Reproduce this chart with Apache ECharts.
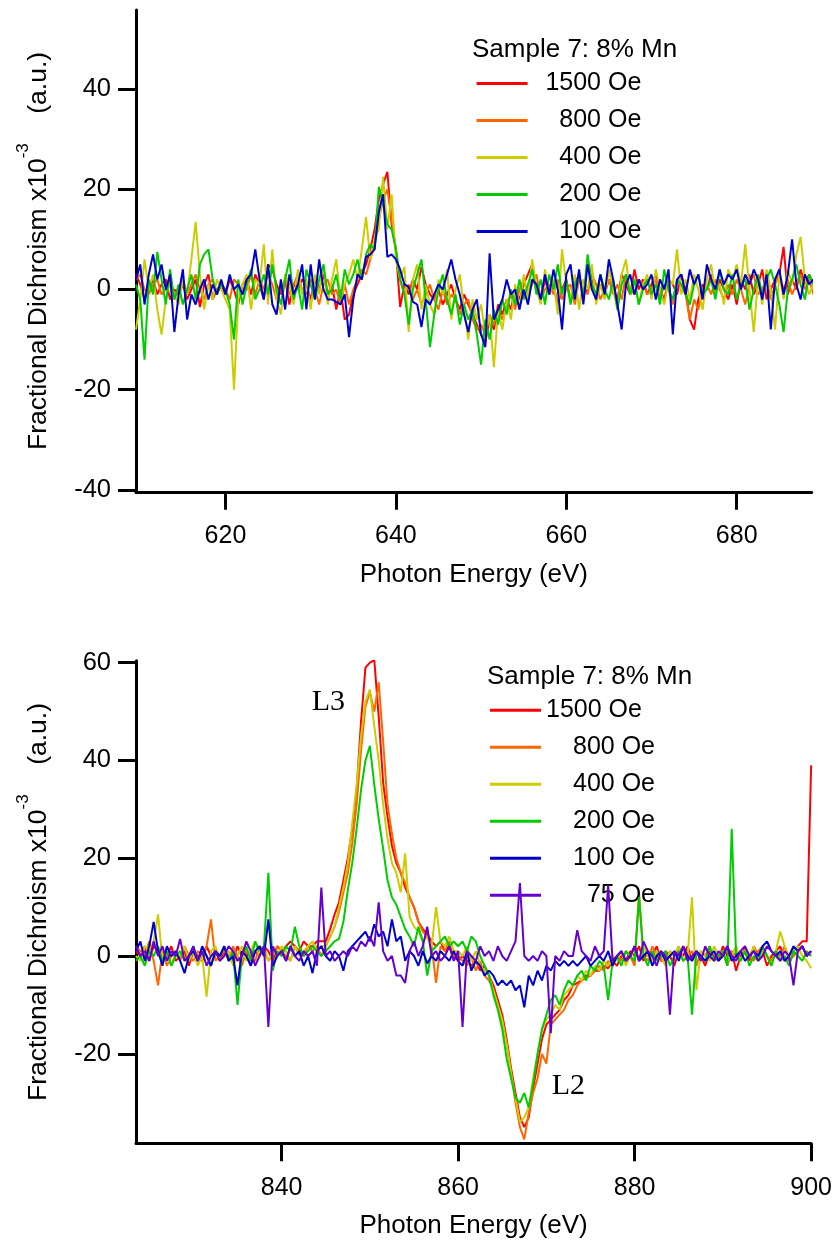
<!DOCTYPE html>
<html>
<head>
<meta charset="utf-8">
<script src="https://cdn.jsdelivr.net/npm/echarts@6/dist/echarts.min.js"></script>
<style>
html,body{margin:0;padding:0;background:#fff;}
#chart{width:835px;height:1241px;}
</style>
</head>
<body>
<div id="chart"></div>
<script>
// ---------- data ----------
const seriesNames = ['1500 Oe', '800 Oe', '400 Oe', '200 Oe', '100 Oe', '75 Oe'];
const seriesColors = ['#ff0000', '#ff6600', '#cccc00', '#00cc00', '#0000cc', '#6600cc'];
const legendTitle = 'Sample 7: 8% Mn';
const xAxisTitle = 'Photon Energy (eV)';
const topXTicks = [620, 640, 660, 680];
const topYTicks = [-40, -20, 0, 20, 40];
const bottomXTicks = [840, 860, 880, 900];
const bottomYTicks = [-20, 0, 20, 40, 60];

// energy sampling (eV): first point and spacing of each scan
const topStartEnergy = 609.5;
const bottomStartEnergy = 823.5;
const energyStep = 0.5;

// Top panel (609.5 - 689 eV)
const topRed = [
  3, 1, -2, 0, 2, -1, 1, 2, -2, 0,
  -1, 1, -2, 0, 2, -3.5, 1, 3, -2, 0,
  1, -1, 2, 0, -3, 1, 2, -1, 3, 1,
  -2, 5, 4, 1, -1, 2, -3, 1, 0, 2,
  1, -2, 2, 0, 3, -1, 1, -4, 0, -6,
  -5, -1, 1, 3, 5, 8, 12, 18, 21, 23.5,
  13, 8, -3.5, 1, -1, 2, 0, 4.5, 1, -1,
  -2, 0, -3, -1, 1, -2, -4, -1, -3, -5,
  -7, -9, -10.5, -6, -8, -3, -5, -2, -4, 0,
  -2, 1, 3, 5, 0, -2, 2, -1, 1, -3,
  0, 2, -2, 1, 3, -1, 0, 2, -2, 1,
  -1, 2, 0, -2, 3, 1, -1, 4, 0, 2,
  -1, 1, 3, 0, -2, 2, 1, -1, 3, 0,
  -6, -8, -2, 1, 0, 3, -1, 2, 0, -2,
  1, -3, 2, 0, 3, -1, 1, 4, -2, 0,
  2, 3, 8.5, -1, 2, 0, 4, 1, 3, 1
];
const topOrange = [
  2, 3, 0, -1, 1, 2, -1, 0, 1, -2,
  0, 2, -1, 1, 3, 0, -2, 1, 2, -1,
  1, 0, -2, 2, 1, -1, 0, 3, -1, 2,
  0, 3, 1, -2, 0, 2, -1, 1, 3, 0,
  -1, 2, 0, -3, 1, 2, -1, 0, -3, 1,
  -3, 0, 2, 4, 3, 6, 9, 14, 18, 20,
  14, 8, 2, -1, 1, -2, 0, -3, -1, 1,
  -2, -4, 0, -3, -1, -2, -5, -3, -2, -6,
  -8, -7, -9, -5, -7, -4, -6, -3, -1, -4,
  0, 2, -1, 1, 3, -2, 0, 1, -1, 2,
  -2, 0, 1, -3, 2, 0, -1, 3, 1, -2,
  0, 2, -1, 1, -2, 3, 0, -1, 2, 1,
  -1, 0, 2, -2, 1, 0, -3, 2, 1, -1,
  -6, -2, -4, 0, 1, -1, 2, 0, -2, 1,
  -1, 2, 0, -3, 1, 3, -1, 0, 2, -2,
  1, 3, 0, 2, -1, 1, 3, 0, 2, -1
];
const topYellow = [
  -8, -2, 6, 0, 3, -4, -9, -2, 2, -1,
  -3, 2, -1, 6, 13.5, 3, -4, 1, -2, 2,
  0, -2, -4, -20, -2, 1, 3, -4, 2, 1,
  9, -3, 8, -2, -5, 3, 1, -3, 4, -1,
  2, -4, 3, -1, 5, -3, 2, 6, -2, 1,
  3, 6, 2, 8, 14.5, 6, 10, 12, 22.5, 12,
  19, 6, 2, 4.5, -8.5, 2, 5, -4, 1, -3,
  -5, 2, -1, 4, -6, 0, 3, -4, -10, -2,
  -6, -3, -9, -5, -15.5, -4, -8, -2, -6, 1,
  -4, 3, -2, 6, 0, -3, 4, -1, 2, -5,
  8, 1, -2, 3, -4, 2, 0, 5, -3, 1,
  -2, 4, 0, -4, 3, 6, -1, 2, -3, 1,
  3, -2, 4, 0, -3, 2, 1, 8, -1, 2,
  -2, 3, 0, -4, 2, 5, -1, 1, -3, 4,
  2, 5, 1, 9, 0, -8.5, 2, -3, 4, 0,
  -8, 3, -2, 4, 1, 7, 10.5, 2, -1, 1
];
const topGreen = [
  1, -2, -14, 2, -1, 7.5, 2, -3, 4, -2,
  1, -3, 0, 3, -2, 5, 7, 8, 2, -1,
  1, 0, -3, -10, 2, -3, 1, 4, -2, 0,
  3, -1, 5, 0, -3, 2, 6, -2, 1, -4,
  4, 1, -2, 2, 5, -1, 0, 3, -2, 4,
  1, 3, 6, 2, 7, 9, 8, 20.5, 17, 13,
  12, 8, 2, -1, -7, 0, 3, 6, -2, -11.5,
  -5, 0, 3, -2, -5, -1, -7, -3, -6, -4,
  -9, -15, -6, -10, -4, -7, -2, -5, 0, -3,
  2, -2, 1, 4, -1, 2, -3, 3, 0, 5,
  -1, 2, -3, 1, 3, -2, 7, 1, -1, 3,
  0, -2, 2, -4, 1, 3, -1, 2, -3, 0,
  2, -1, 1, -3, 4, 0, -2, 2, 1, -1,
  -3, 1, 3, -1, 0, 2, -2, 4, 0, -1,
  3, -2, 1, 2, -4, 0, 3, -1, 2, 4,
  1, -3, -8.5, 0, 2, 5, 1, -2, 3, 1
];
const topBlue = [
  2, 5, -3, 3, 7, 2, 5, 0, 3, -8.5,
  -1, 4, -6, -1, -3, 0, 2, -2, 1, -1,
  2, -1, 3, 0, 1, -1, 2, 3, 8, 2,
  -2, 5, -3, -5, 2, -4, 3, -1, 1, 5,
  -4, 5, -2, 6, 0, -2, -2, -2.5, -3, -1,
  -9.5, -2, 3, 2, 6.5, 7, 8, 15.5, 19, 6.5,
  7, 6, 4, 1, 0.5, -2.5, -3, -7.5, -2, -3,
  -1, 1, 0, 3, 6, 2, -1, -5, -8.5, -4,
  -2, -9, -11.5, 7.2, -6, -4, -2, 2, -1, 0,
  -4, 0, -3, 2, 1, -2, 3, -1, 4, 0,
  -8, 3, 5, -2, 4, -3, 5, 0, -2, 3,
  -1, 6, 2, -3, -8, 1, 3, -1, 2, 0,
  1, 3, -2, 2, 0, 4, -9, 2, 3, -1,
  4, 1, 3, -2, 5, 2, 0, 4, 1, 3,
  2, 4, 0, 3, 1, 4, 2, -2, 3, -8,
  2, 4, -1, 3, 10, 1, -2, 3, 1, 2
];

// Bottom panel (823.5 - 900 eV)
const bottomRed = [
  1, 0, 2, -1, 2, 1, -1, 0, 2, -1,
  0, 1, -2, 1, 0, -1, 2, 0, 1, -1,
  1, 0, -1, 2, 0, 1, -2, 1, 0, 2,
  1, -1, 2, 1, 2, 3, 2, 1, 3, 2,
  2, 3, 3, 3, 5.5, 8.5, 11, 15.5, 20, 26,
  34, 48, 59, 60, 60.5, 49, 35.5, 28.5, 22.5, 19,
  17, 14, 12, 10, 7, 5.5, 4.5, 3, 2, 3,
  1, 2, 0, -1, 0, -1, -2, -1, -3, -2,
  -4, -6, -9, -12, -17, -23, -28, -33, -35, -33,
  -27, -22, -17, -14, -13, -12, -11, -9, -8, -6,
  -5.5, -5, -4, -4, -3, -3, -2, -2.5, -1, -2,
  0, -1, 1, 0, 2, -1, 1, 0, 2, -1,
  1, 0, -2, 1, 0, 2, -1, 1, 0, -2,
  1, 0, -1, 2, 0, 1, -3, 0, 1, -1,
  2, 0, 1, -2, 0, 1, 2, -1, 0, 1,
  2, 3, 3, 39
];
const bottomOrange = [
  2, 1, 0, 3, -1, -6, 1, -2, 0, 1,
  -1, 2, 0, -1, 1, 0, 2, 7.5, -1, 0,
  1, -1, 2, 0, -2, 1, 0, -1, 2, 1,
  -1, 0, 2, 1, 0, -1, 2, 1, 0, 2,
  1, 2, 0, 2, 4, 6, 9, 13, 17, 23,
  31, 42, 51, 54, 50, 56, 44, 31, 25, 20,
  17, 15, 12, 10, 7, 5, 4, 2, -5.5, 2,
  1, 3, 0, 0, -1, -2, 0, -3, -1, -4,
  -5, -7, -10, -14, -18, -24, -30, -35, -37.5, -32,
  -28, -25, -20, -22, -14, -13, -12, -11, -9, -8,
  -6, -5, -4.5, -4, -3, -2, -3, -1, -2, 0,
  -1, 1, 0, -2, 13, 0, -1, 2, 0, -1,
  -1, 1, 0, 2, -1, 0, 1, -2, 1, 0,
  2, -1, 0, 1, -2, 1, 0, -1, 2, 0,
  -1, 1, 2, 0, -1, 1, 0, 2, -1, 0,
  1, 2, 0, 1
];
const bottomYellow = [
  0, -1, 2, 1, 3, 8.5, -1, 0, -2, 1,
  0, 2, -1, 1, -2, 0, -8.3, 1, 2, -1,
  0, 1, -2, 0, 2, -1, 1, 3, 0, 2,
  -1, 1, 0, 2, 1, -1, 2, 0, 1, 2,
  3, 1, 2, 2, 4, 6, 10, 14, 19, 27,
  35, 45, 52, 54.5, 47, 40, 31, 24, 19, 17,
  13, 21, 8, 6, 5, 3, 4, 2, 10, 3,
  2, 4, 1, 1, 0, 2, -1, 1, -2, -3,
  -4, -7, -10, -13, -18, -24, -29, -34, -33, -31,
  -25, -20, -15, -13, -12, -10, -11, -8, -7, -6,
  -4, -5, -3, -4, -2, -3, -1, -2, 0, -1,
  1, -2, 0, 1, -1, 2, 0, -1, 1, 0,
  -2, 1, 0, 2, -1, 0, 12, -7, 1, 0,
  -1, 2, 0, 1, -1, 0, 2, -1, 1, 0,
  2, -1, 1, 0, -2, 1, 5, 2, 0, 1,
  2, 0, -1, -2.5
];
const bottomGreen = [
  -1, 0, -2, 1, 0, 2, -1, 1, -2, 0,
  1, -1, 0, 2, -1, 1, 0, -2, 1, 0,
  2, -1, 1, -10, 0, 2, -1, 3, 1, 2,
  17, -3, 1, 0, 2, 1, 6, 2, 0, 1,
  2, 1, 0, 1, 2, 3, 3.5, 7, 13.5, 19,
  26, 34, 40, 43, 35, 28, 22, 15.5, 12, 10.5,
  8, 5.5, 4, 2, 6, 3, -4, 1, 2, 3,
  4, 2, 3, 2, 3, 1, 4, 3, 0, -2,
  -4, -8, -11, -15, -21, -25, -29, -30, -28, -31,
  -26, -20, -15, -12, -9, -8, -10, -7, -5, -6,
  -4, -3, -5, -2, -3, -1, -2, -9, -1, 0,
  -2, 1, 0, -1, 12, 0, -2, 1, -1, 0,
  1, -2, 0, 1, -1, 0, -12, 1, 0, -1,
  2, -1, 0, 1, -2, 26, 0, -1, 1, -2,
  0, -1, 2, 0, -2, 1, -1, 0, -2, 1,
  0, -1, 1, 0
];
const bottomBlue = [
  1, 3, -1, 2, 7, 1, -2, 2, 0, 1,
  -1, -3.5, 0, 1, -1, 2, 0, -2, 1, 0,
  2, -1, 0, -6, 1, 0, -2, 1, 2, 0,
  7.5, -2, 0, 1, -1, 2, 0, 1, -2, 0,
  -3.5, 1, 2, 0, -1, 1, 0, -3, 1, 2,
  3, 4, 5, 3, 6.5, 4, 5, 2, 7.5, 3,
  4, -1, 1, 0, -2, 1, -1.5, 0, -1, 1,
  0, -1, 1, -1, -2, 1, -3, -1, -2, -4,
  -3, -4, -6, -5, -6, -5, -7, -6, -10.5, -4,
  -6, -3, -5, -2, -3, -1, -2, -1, -2, -1,
  -2, -1, 0, -2, -1, 0, -1, 1, -2, 0,
  1, -1, 0, 2, -1, 0, 1, -2, 0, 1,
  -1, 0, 1, -1, 2, 0, -1, 1, 0, -1,
  0, 1, -1, 0, 2, -1, 0, 1, -1, 0,
  1, 0, 2, 3, 1, 0, 1, -1, 0, 2,
  1, 2, 0, 1
];
const bottomPurple = [
  2, 0, 1, -1, 3, 0, 2, -1, 1, 0,
  3.5, -1, 0, 2, -1, 1, -2, 0, 1, -1,
  0, 2, 1, -1, 0, 3, 1, -2, 0, 2,
  -14.5, 2, 0, 1, -1, 2, 0, -1, 1, 0,
  1, -2, 14, 0, 1, -1, 0, 1, 0, 2,
  1, 3, 2, 4, 2, 11, 1, -1, 0, -4,
  -4, -5.5, 1, 3, 0, 2, 6, 0, 1, -1,
  0, 2, -1, 1, -14.5, 1, 0, -1, 2, 0,
  1, -1, 2, 0, -1, 1, 3, 14.9, 0, -1,
  0, -1, 1, 0, -15.8, 0, -1, 1, 0, 0,
  5.3, 1, 0, -1, 2, 0, 1, 14.5, -1, 0,
  1, -1, 0, 2, -1, 3, 1, 0, -2, 1,
  0, -12, 1, 0, 2, -1, 0, 1, -1, 2,
  0, -1, 1, 0, 2, 0, -1, 1, 2, 0,
  1, -1, 0, 2, 1, 0, -1, 1, 0, -6,
  1, 2, 0, 1
];

const topValues = [topRed, topOrange, topYellow, topGreen, topBlue];
const bottomValues = [bottomRed, bottomOrange, bottomYellow, bottomGreen, bottomBlue, bottomPurple];

// ---------- chart ----------
const F = '"Liberation Sans", Arial, Helvetica, sans-serif';
const SERIF = '"Liberation Serif", "Times New Roman", serif';

function toPairs(values, start) {
  return values.map((v, i) => [start + i * energyStep, v]);
}

function xAxisCfg(gridIndex, min, max, ticks) {
  return {
    type: 'value', gridIndex, min, max,
    name: xAxisTitle, nameLocation: 'middle', nameGap: 70,
    nameTextStyle: { fontSize: 26, color: '#000', fontFamily: F },
    axisLine: { show: true, onZero: false, lineStyle: { color: '#000', width: 3 } },
    axisTick: { show: true, inside: false, length: 18, lineStyle: { color: '#000', width: 3 }, customValues: ticks },
    axisLabel: { show: true, fontSize: 25, color: '#000', fontFamily: F, margin: 32, customValues: ticks },
    splitLine: { show: false }
  };
}

function yAxisCfg(gridIndex, min, max, ticks) {
  return {
    type: 'value', gridIndex, min, max,
    name: '{a|Fractional Dichroism x10}{s|-3}{a|    (a.u.)}',
    nameLocation: 'middle', nameRotate: 90, nameGap: 74,
    nameTextStyle: {
      color: '#000', fontFamily: F,
      rich: {
        a: { fontSize: 26.5, lineHeight: 47, fontFamily: F, color: '#000' },
        s: { fontSize: 17, lineHeight: 16, verticalAlign: 'top', fontFamily: F, color: '#000' }
      }
    },
    axisLine: { show: true, onZero: false, lineStyle: { color: '#000', width: 3 } },
    axisTick: { show: true, inside: false, length: 18, lineStyle: { color: '#000', width: 3 }, customValues: ticks },
    axisLabel: { show: true, fontSize: 25.5, color: '#000', fontFamily: F, margin: 25, customValues: ticks },
    splitLine: { show: false }
  };
}

const series = [];
topValues.forEach((vals, k) => {
  series.push({
    type: 'line', name: seriesNames[k], xAxisIndex: 0, yAxisIndex: 0,
    data: toPairs(vals, topStartEnergy), symbol: 'none', showSymbol: false,
    lineStyle: { width: 2, color: seriesColors[k] }, itemStyle: { color: seriesColors[k] },
    z: 2 + k, animation: false
  });
});
bottomValues.forEach((vals, k) => {
  series.push({
    type: 'line', name: seriesNames[k], xAxisIndex: 1, yAxisIndex: 1,
    data: toPairs(vals, bottomStartEnergy), symbol: 'none', showSymbol: false,
    lineStyle: { width: 2, color: seriesColors[k] }, itemStyle: { color: seriesColors[k] },
    z: 2 + k, animation: false
  });
});

function legendCfg(left, top, names, boxWidth, firstLeft) {
  return {
    orient: 'vertical', left, top, padding: 0,
    itemWidth: 51, itemHeight: 3, itemGap: 12, icon: 'rect',
    selectedMode: false, data: names,
    formatter: (n) => (firstLeft && n === '1500 Oe') ? '{l|' + n + '}' : '{r|' + n + '}',
    textStyle: {
      color: '#000', fontSize: 25, fontFamily: F,
      rich: {
        r: { width: boxWidth, align: 'right', fontSize: 25, lineHeight: 20, fontFamily: F, color: '#000' },
        l: { width: boxWidth, align: 'left', fontSize: 25, lineHeight: 20, fontFamily: F, color: '#000' }
      }
    }
  };
}

const option = {
  animation: false,
  backgroundColor: '#fff',
  title: [
    { text: legendTitle, left: 472, top: 36, padding: 0,
      textStyle: { fontSize: 26, fontWeight: 'normal', color: '#000', fontFamily: F, lineHeight: 27 } },
    { text: legendTitle, left: 487, top: 663.5, padding: 0,
      textStyle: { fontSize: 26, fontWeight: 'normal', color: '#000', fontFamily: F, lineHeight: 27 } }
  ],
  legend: [
    legendCfg(476.6, 71, seriesNames.slice(0, 5), 108.7, false),
    legendCfg(490, 697.7, seriesNames.slice(0, 6), 109, true)
  ],
  grid: [
    { left: 136, right: 23.3, top: 10, height: 481.8 },
    { left: 136, right: 23, top: 660.7, height: 482.6 }
  ],
  xAxis: [
    xAxisCfg(0, topStartEnergy, 688.8, topXTicks),
    xAxisCfg(1, bottomStartEnergy, 900, bottomXTicks)
  ],
  yAxis: [
    yAxisCfg(0, -40.4, 55.8, topYTicks),
    yAxisCfg(1, -38.3, 60.4, bottomYTicks)
  ],
  graphic: [
    { type: 'text', x: 311.7, y: 701.7, style: { text: 'L3', fontSize: 30, fontFamily: SERIF, fill: '#000', verticalAlign: 'middle' } },
    { type: 'text', x: 551.7, y: 1086, style: { text: 'L2', fontSize: 30, fontFamily: SERIF, fill: '#000', verticalAlign: 'middle' } }
  ],
  series
};

const chart = echarts.init(document.getElementById('chart'), null, { renderer: 'canvas' });
chart.setOption(option);
</script>
</body>
</html>
